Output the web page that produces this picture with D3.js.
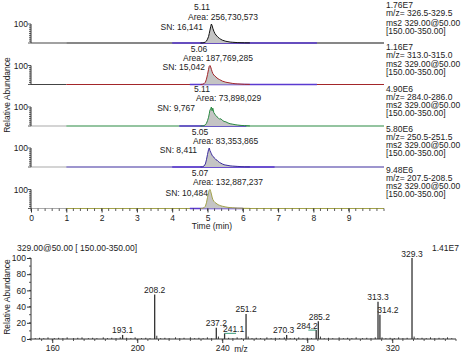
<!DOCTYPE html>
<html><head><meta charset="utf-8">
<script src="https://cdn.jsdelivr.net/npm/d3@7"></script>
<style>
body{margin:0;background:#fff}
text{font-family:"Liberation Sans",Arial,sans-serif;fill:#222;font-size:8.5px}
</style>
</head><body><svg id="c" width="463" height="354"></svg>
<script>
// ---------- DATA ----------
const peakTimes = [4.80,4.86,4.90,4.94,4.97,5.00,5.03,5.05,5.07,5.09,5.11,5.13,5.15,5.18,5.21,5.24,5.27,5.30,5.34,5.38,5.42,5.47,5.52,5.58,5.64,5.70,5.78,5.86,5.95,6.05,6.20];
const trace1 = [0,0.5,2,5,10,20,34,50,68,86,100,92,78,62,50,42,36,30,24,19,15,12,9,7,5,4,3,2,1.5,1,0.5];
const trace2 = [0,1,4,12,28,52,80,96,100,92,80,68,58,50,44,40,34,30,26,22,18,15,12,10,8,6,4,3,2,1,0.5];
const trace3 = [0,0.5,2,6,14,28,46,64,84,90,100,80,94,70,62,54,48,44,36,38,30,24,22,16,12,10,7,5,3,2,0.5];
const trace4 = [0,1,5,16,38,66,92,100,86,78,70,62,56,52,44,38,36,30,24,20,16,12,10,8,6,5,4,3,2,1,0.5];
const trace5 = [0,1,4,12,30,58,84,96,100,90,76,60,48,38,32,28,24,20,17,14,12,10,8,6,5,4,3,2,1.5,1,0.5];
const rtLabels = ["5.11","5.06","5.11","5.05","5.07"];
const areaLabels = ["Area: 256,730,573","Area: 187,769,285","Area: 73,898,029","Area: 83,353,865","Area: 132,887,237"];
const snLabels = ["SN: 16,141","SN: 15,042","SN: 9,767","SN: 8,411","SN: 10,484"];
const nlLabels = ["1.76E7","1.16E7","4.90E6","5.80E6","9.48E6"];
const mzRanges = ["m/z= 326.5-329.5","m/z= 313.0-315.0","m/z= 284.0-286.0","m/z= 250.5-251.5","m/z= 207.5-208.5"];
const scanFilter = ["ms2 329.00@50.00","[150.00-350.00]"];
const integStart = [4.0,4.5,4.2,4.0,4.5];
const integEnd = [8.1,8.1,6.1,6.9,6.0];
const timeTicks = [0,1,2,3,4,5,6,7,8,9];

const specMz  = [193.1,208.2,237.2,241.1,251.2,270.3,284.2,285.2,313.3,314.2,329.3];
const specInt = [5,55,14,7,31,5,11,22,46,30,100];
const minorMz  = [152,154,156,158,161,163,165,167,170,172,174,177,179,181,184,186,188,190,192,195,197,199,202,204,206,209.2,211,213,215,218,220,222,225,227,229,231,233,235,238.2,243,245,247,249,252.2,254,256,258,261,263,265,267,269.2,272,274,276,278,280,282,286.2,288,290,292,295,297,299,301,303,306,308,310,312,315.2,317,319,321,323,325,327,330.3,332,334,336,338,340,342,344,346,348];
const minorInt = [1,1.5,1,2,1,1.5,1,2,1,1.5,2,1,1.5,1,2,1,1.5,1,2,1.5,1,2,1,1.5,1,4,1,1.5,1,2,1,1.5,2,1,1.5,1,2,1,3,1.5,1,2,1,3,1,1.5,1,2,1,1.5,1,2,1,1.5,2,1,1.5,1,3,1,1.5,1,2,1,1.5,1,2,1,1.5,1,2,2,1,1.5,1,2,1,1.5,3,1,1.5,1,2,1,1.5,1,2,1];
const mzTicks = [160,200,240,280,320];
const abundTicks = [0,20,40,60,80,100];
const specTitle = "329.00@50.00 [ 150.00-350.00]";
const specNL = "1.41E7";

// ---------- LAYOUT / STYLE ----------
const traces = [trace1,trace2,trace3,trace4,trace5];
const traceColors = ["#111111","#a3262a","#2a8a42","#3c2c9e","#a3a34a"];
const leadColors = ["#444","#444","#aaa","#aaa","#aaa"];
const integColor = "#5b3ad0";
const B = [43,84.5,126,167,208.5];
const PH = 19;
const lab = [
  {rt:[202,10], area:[188,20], sn:[203,30], right:[8,16,26,34]},
  {rt:[199,52], area:[183,61], sn:[205,70], right:[50,58,67,75]},
  {rt:[202,91.5], area:[196,101], sn:[195,111], right:[92,100,108,116]},
  {rt:[200,135], area:[193,144], sn:[197,153], right:[132,140,148,156]},
  {rt:[200,176], area:[193,185], sn:[208,196], right:[173,181,189,197]}
];
const svg = d3.select("#c");
svg.append("rect").attr("width",463).attr("height",354).attr("fill","#fff");

const xT = d3.scaleLinear().domain([0,10]).range([31,384]);

traces.forEach((tr,i)=>{
  const y = d3.scaleLinear().domain([0,100]).range([B[i],B[i]-PH]);
  const g = svg.append("g");
  g.append("line").attr("x1",xT(0)).attr("x2",xT(1)).attr("y1",y(0)).attr("y2",y(0))
    .attr("stroke",leadColors[i]).attr("stroke-width",1.2);
  g.append("line").attr("x1",xT(1)).attr("x2",xT(10)).attr("y1",y(0)).attr("y2",y(0))
    .attr("stroke",traceColors[i]).attr("stroke-width",1.2);
  g.append("line").attr("x1",xT(integStart[i])).attr("x2",xT(integEnd[i])).attr("y1",y(0)).attr("y2",y(0))
    .attr("stroke",integColor).attr("stroke-width",1.3);
  const pts = peakTimes.map((t,k)=>[t,tr[k]]);
  g.append("path").datum(pts)
    .attr("d",d3.area().x(d=>xT(d[0])).y0(y(0)).y1(d=>y(d[1])))
    .attr("fill","#c4c4c4");
  g.append("path").datum(pts)
    .attr("d",d3.line().x(d=>xT(d[0])).y(d=>y(d[1])))
    .attr("fill","none").attr("stroke",traceColors[i]).attr("stroke-width",1);
  g.append("line").attr("x1",31).attr("x2",31).attr("y1",y(0)).attr("y2",y(100)).attr("stroke","#333");
  d3.range(0,101,10).forEach(v=>{
    g.append("line").attr("x1",31).attr("x2",v===100||v===0?28:29).attr("y1",y(v)).attr("y2",y(v)).attr("stroke","#333").attr("stroke-width",0.8);
  });
  g.append("text").attr("x",28).attr("y",y(100)+3).attr("text-anchor","end").text("100");
  const L = lab[i];
  g.append("text").attr("x",L.rt[0]).attr("y",L.rt[1]).attr("text-anchor","middle").text(rtLabels[i]);
  g.append("text").attr("x",L.area[0]).attr("y",L.area[1]).text(areaLabels[i]);
  g.append("text").attr("x",L.sn[0]).attr("y",L.sn[1]).attr("text-anchor","end").text(snLabels[i]);
  const rl = [nlLabels[i], mzRanges[i], scanFilter[0], scanFilter[1]];
  rl.forEach((s,k)=>g.append("text").attr("x",386).attr("y",L.right[k]).attr("font-size","7.2px").text(s));
});

const xAxis = d3.axisBottom(xT).tickValues(timeTicks).tickSize(4).tickFormat(d3.format("d"));
const ax = svg.append("g").attr("transform",`translate(0,${B[4]})`).call(xAxis);
ax.select(".domain").remove();
ax.selectAll("text").attr("font-size",null).attr("font-family",null).attr("dy","0.6em");
ax.selectAll("line").attr("stroke","#333");
d3.range(0,10.01,0.2).forEach(t=>{
  svg.append("line").attr("x1",xT(t)).attr("x2",xT(t)).attr("y1",B[4]).attr("y2",B[4]+2.5).attr("stroke","#333").attr("stroke-width",0.8);
});
svg.append("text").attr("x",212).attr("y",229).attr("text-anchor","middle").text("Time (min)");
svg.append("text").attr("transform","translate(10,95) rotate(-90)").attr("text-anchor","middle").attr("font-size","8px").text("Relative Abundance");

// ---------- SPECTRUM ----------
const xM = d3.scaleLinear().domain([150,350]).range([31,456]);
const yM = d3.scaleLinear().domain([0,100]).range([339,258]);
svg.append("text").attr("x",17).attr("y",251).text(specTitle);
svg.append("text").attr("x",432).attr("y",251).text(specNL);
svg.append("text").attr("transform","translate(10,297) rotate(-90)").attr("text-anchor","middle").attr("font-size","8px").text("Relative Abundance");

minorMz.forEach((m,k)=>{
  svg.append("line").attr("x1",xM(m)).attr("x2",xM(m)).attr("y1",yM(0)).attr("y2",yM(minorInt[k]))
    .attr("stroke","#333").attr("stroke-width",1);
});
const specDx = [0,0,0,9,0,-3,-9,1,0,8,0];
specMz.forEach((m,k)=>{
  svg.append("line").attr("x1",xM(m)).attr("x2",xM(m)).attr("y1",yM(0)).attr("y2",yM(specInt[k]))
    .attr("stroke","#333").attr("stroke-width",1.3);
  svg.append("text").attr("x",xM(m)+specDx[k]).attr("y",yM(specInt[k])-1.5).attr("text-anchor","middle").text(m.toFixed(1));
});
svg.append("line").attr("x1",xM(241.1)).attr("x2",xM(246.5)).attr("y1",yM(7)).attr("y2",yM(7)).attr("stroke","#3a9a7a").attr("stroke-width",1);
svg.append("line").attr("x1",xM(280.5)).attr("x2",xM(284.2)).attr("y1",yM(11)).attr("y2",yM(11)).attr("stroke","#3a9a7a").attr("stroke-width",1);

svg.append("line").attr("x1",31).attr("x2",456).attr("y1",339).attr("y2",339).attr("stroke","#333");
svg.append("line").attr("x1",31).attr("x2",31).attr("y1",339).attr("y2",258).attr("stroke","#333");
const xa = svg.append("g").attr("transform","translate(0,339)").call(d3.axisBottom(xM).tickValues(mzTicks).tickSize(4));
xa.select(".domain").remove();
xa.selectAll("text").attr("font-size",null).attr("font-family",null).attr("dy","0.55em");
xa.selectAll("line").attr("stroke","#333");
d3.range(150,351,5).forEach(m=>{
  svg.append("line").attr("x1",xM(m)).attr("x2",xM(m)).attr("y1",339).attr("y2",341).attr("stroke","#333").attr("stroke-width",0.8);
});
const ya = svg.append("g").attr("transform","translate(31,0)").call(d3.axisLeft(yM).tickValues(abundTicks).tickSize(4).tickPadding(1));
ya.select(".domain").remove();
ya.selectAll("text").attr("font-size",null).attr("font-family",null);
ya.selectAll("line").attr("stroke","#333");
d3.range(0,101,10).forEach(v=>{
  svg.append("line").attr("x1",31).attr("x2",29).attr("y1",yM(v)).attr("y2",yM(v)).attr("stroke","#333").attr("stroke-width",0.8);
});
svg.append("text").attr("x",241).attr("y",352).attr("text-anchor","middle").text("m/z");
</script>
</body></html>
